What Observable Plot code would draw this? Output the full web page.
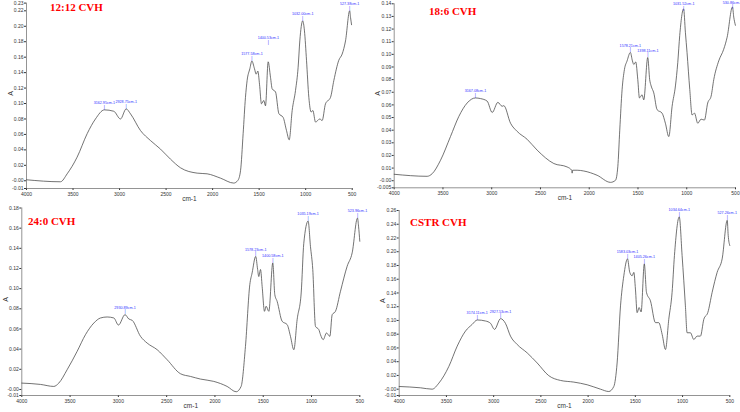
<!DOCTYPE html>
<html><head><meta charset="utf-8">
<script src="https://cdn.jsdelivr.net/npm/d3@7"></script>
<script src="https://cdn.jsdelivr.net/npm/@observablehq/plot@0.6"></script>
<style>
body{margin:0;background:#fff;}
#wrap{position:relative;width:740px;height:412px;overflow:hidden;background:#fff;}
.panel{position:absolute;width:370px;height:206px;}
.title{position:absolute;font-family:"Liberation Serif","Times New Roman",serif;font-weight:bold;color:#ff0000;font-size:11px;line-height:1;white-space:nowrap;}
</style></head><body><div id="wrap"></div>
<script>
// ---- data ----
const titles = ["12:12 CVH", "18:6 CVH", "24:0 CVH", "CSTR CVH"];
const xTicks = [4000, 3500, 3000, 2500, 2000, 1500, 1000, 500];

// 12:12 CVH
const wn1 = [4000,3635,3563,3456,3348,3259,3163,3062,2990,2929,2882,2775,2667,2560,2453,2345,2166,2059,1915,1773,1729,1700,1672,1647,1629,1600,1578,1550,1532,1514,1496,1475,1450,1432,1403,1378,1360,1324,1288,1242,1206,1177,1145,1109,1081,1063,1032,1013,991,966,941,923,894,848,823,787,733,697,644,608,572,527,518,507];
const ab1 = [0.0013,-0.0013,0.009,0.0306,0.061,0.080,0.0918,0.090,0.080,0.093,0.0866,0.065,0.052,0.041,0.028,0.0168,0.0099,0.009,0.0034,-0.003,0.0004,0.013,0.061,0.108,0.130,0.145,0.155,0.145,0.138,0.142,0.125,0.0996,0.104,0.097,0.154,0.134,0.119,0.115,0.087,0.082,0.065,0.053,0.091,0.117,0.147,0.181,0.207,0.194,0.156,0.108,0.089,0.091,0.076,0.080,0.078,0.0996,0.108,0.130,0.156,0.164,0.181,0.220,0.2116,0.202];
const pkW1 = [3162.95, 2928.75, 1577.58, 1400.53, 1032.00, 527.38];
const pkA1 = [0.0918, 0.093, 0.155, 0.176, 0.207, 0.220];
const yTicks1 = [0.23,0.22,0.20,0.18,0.16,0.14,0.12,0.10,0.08,0.06,0.04,0.02,0,-0.01];
const yLabels1 = ["0.23","0.22","0.20","0.18","0.16","0.14","0.12","0.10","0.08","0.06","0.04","0.02","-0.00","-0.01"];

// 18:6 CVH
const wn2 = [4000,3662,3610,3525,3423,3337,3252,3167,3115,3047,2995,2937,2893,2876,2807,2739,2637,2534,2363,2227,2180,2175,2170,2124,2056,1919,1782,1731,1707,1687,1663,1639,1612,1578,1557,1543,1523,1502,1485,1458,1441,1400,1380,1365,1338,1304,1253,1219,1184,1150,1116,1092,1072,1032,1014,997,969,945,921,887,853,819,785,750,723,672,621,586,531,518,501];
const ab2 = [0.0051,0.0035,0.0056,0.0162,0.0349,0.0509,0.0615,0.0655,0.0650,0.063,0.054,0.062,0.0589,0.0594,0.0455,0.039,0.0328,0.0242,0.0136,0.0109,0.0083,0.006,0.0083,0.0083,0.0077,0.0043,-0.0013,0.0003,0.011,0.040,0.072,0.088,0.0948,0.1015,0.0948,0.092,0.094,0.080,0.0655,0.068,0.064,0.0975,0.080,0.075,0.0695,0.0562,0.0535,0.0455,0.0349,0.0589,0.075,0.0935,0.115,0.136,0.1175,0.1015,0.0722,0.052,0.0535,0.0455,0.0487,0.048,0.0615,0.0669,0.080,0.0948,0.104,0.1135,0.1375,0.1295,0.123];
const pkW2 = [3167.08, 1578.21, 1398.11, 1031.52, 530.86];
const pkA2 = [0.0655, 0.1015, 0.0975, 0.1345, 0.1355];
const yTicks2 = [0.14,0.13,0.12,0.11,0.10,0.09,0.08,0.07,0.06,0.05,0.04,0.03,0.02,0.01,0,-0.0056];
const yLabels2 = ["0.14","0.13","0.12","0.11","0.10","0.09","0.08","0.07","0.06","0.05","0.04","0.03","0.02","0.01","-0.00","-0.005"];

// 24:0 CVH
const wn3 = [4000,3807,3669,3617,3531,3427,3341,3254,3185,3116,3047,2999,2931,2892,2857,2771,2702,2598,2495,2357,2253,2150,2012,1874,1780,1729,1684,1639,1615,1578,1558,1546,1528,1511,1487,1470,1442,1401,1380,1356,1304,1252,1218,1183,1149,1107,1080,1035,1011,987,959,924,907,879,845,810,786,752,700,631,579,524,513,500];
const ab3 = [0.0063,0.005,0.003,0.0063,0.0195,0.0378,0.0543,0.0659,0.0709,0.0719,0.0709,0.0639,0.0742,0.0699,0.0686,0.0527,0.046,0.0394,0.0295,0.0156,0.0129,0.0103,0.008,0.003,-0.0023,0.003,0.0427,0.104,0.1156,0.132,0.119,0.112,0.119,0.102,0.0775,0.0825,0.0775,0.1255,0.094,0.0874,0.0676,0.0643,0.0527,0.0394,0.0692,0.0957,0.145,0.167,0.142,0.119,0.0626,0.0593,0.0543,0.0494,0.056,0.0527,0.0742,0.0775,0.0974,0.1222,0.1355,0.170,0.162,0.147];
const pkW3 = [2930.89, 1578.23, 1400.58, 1035.19, 523.96];
const pkA3 = [0.0742, 0.132, 0.1255, 0.167, 0.170];
const yTicks3 = [0.18,0.16,0.14,0.12,0.10,0.08,0.06,0.04,0.02,0,-0.006];
const yLabels3 = ["0.18","0.16","0.14","0.12","0.10","0.08","0.06","0.04","0.02","-0.00","-0.01"];

// CSTR CVH
const wn4 = [4000,3774,3651,3580,3474,3386,3298,3227,3174,3086,3033,2991,2927,2875,2822,2751,2645,2539,2416,2292,2151,2010,1869,1781,1728,1693,1657,1622,1583,1559,1534,1516,1499,1481,1460,1439,1405,1382,1340,1287,1252,1216,1181,1146,1111,1086,1035,1005,970,952,917,881,846,811,775,733,687,634,581,527,517,500];
const ab4 = [0.0039,0.002,0.0,0.0088,0.0332,0.0626,0.0846,0.0943,0.1007,0.0992,0.0958,0.087,0.1026,0.0958,0.0772,0.065,0.0528,0.0381,0.0196,0.0127,0.0103,0.0064,0.0,-0.0034,0.0039,0.0381,0.1212,0.165,0.1896,0.170,0.165,0.170,0.1457,0.1114,0.1188,0.1124,0.1823,0.1408,0.1285,0.0968,0.0968,0.0797,0.0577,0.1017,0.1408,0.1945,0.2507,0.1945,0.1212,0.0821,0.0821,0.0723,0.0772,0.0772,0.1017,0.1114,0.1408,0.170,0.1896,0.2458,0.2238,0.209];
const pkW4 = [3174.11, 2927.53, 1583.03, 1405.26, 1034.64, 527.26];
const pkA4 = [0.1007, 0.1026, 0.1896, 0.1823, 0.2507, 0.2458];
const yTicks4 = [0.26,0.24,0.22,0.20,0.18,0.16,0.14,0.12,0.10,0.08,0.06,0.04,0.02,0,-0.0092];
const yLabels4 = ["0.26","0.24","0.22","0.20","0.18","0.16","0.14","0.12","0.10","0.08","0.06","0.04","0.02","-0.00","-0.01"];

// ---- layout ----
const panels = [
  {wn: wn1, ab: ab1, pkW: pkW1, pkA: pkA1, yt: yTicks1, yl: yLabels1, left: 0, top: 0, ml: 26, mr: 18.3, mt: 2.6, mb: 18, tx: 50, ty: 1.5},
  {wn: wn2, ab: ab2, pkW: pkW2, pkA: pkA2, yt: yTicks2, yl: yLabels2, left: 370, top: 0, ml: 23.7, mr: 5, mt: 3.3, mb: 18.7, tx: 59, ty: 5.7},
  {wn: wn3, ab: ab3, pkW: pkW3, pkA: pkA3, yt: yTicks3, yl: yLabels3, left: 0, top: 206, ml: 21.3, mr: 10.7, mt: 1.5, mb: 17, tx: 28, ty: 9.7},
  {wn: wn4, ab: ab4, pkW: pkW4, pkA: pkA4, yt: yTicks4, yl: yLabels4, left: 370, top: 206, ml: 28.7, mr: 10.7, mt: 4, mb: 17, tx: 40, ty: 10.7}
];

const wrap = document.getElementById("wrap");
panels.forEach((cfg, k) => {
  const rows = cfg.wn.map((w, i) => ({w, a: cfg.ab[i]}));
  const peaks = cfg.pkW.map((w, i) => ({w, a: cfg.pkA[i], t: w.toFixed(2) + "cm-1"}));
  const yDomain = [cfg.yt[cfg.yt.length - 1], cfg.yt[0]];
  const chart = Plot.plot({
    width: 370, height: 206,
    marginLeft: cfg.ml, marginRight: cfg.mr, marginTop: cfg.mt, marginBottom: cfg.mb,
    style: {fontFamily: "Arial, 'Liberation Sans', sans-serif", fontSize: "5px", color: "#333", background: "transparent", overflow: "visible"},
    x: {domain: [4000, 500], ticks: xTicks, tickFormat: d => String(d), tickSize: 2, tickPadding: 1.5, label: null},
    y: {domain: yDomain, ticks: cfg.yt, tickFormat: d => cfg.yl[cfg.yt.indexOf(d)], tickSize: 2, tickPadding: 1, label: null},
    marks: [
      Plot.ruleX([4000], {stroke: "#666", strokeWidth: 0.7}),
      Plot.ruleY([yDomain[0]], {stroke: "#666", strokeWidth: 0.7}),
      Plot.line(rows, {x: "w", y: "a", stroke: "#444", strokeWidth: 0.75, curve: "monotone-x"}),
      Plot.text(peaks, {x: "w", y: "a", text: "t", dy: -5.8, lineAnchor: "bottom", fontSize: 3.7, fill: "#3030ff"}),
      Plot.text(peaks, {x: "w", y: "a", text: () => "|", dy: -1.2, lineAnchor: "bottom", fontSize: 4.5, fill: "#3030ff"}),
      Plot.text(["A"], {text: d => d, frameAnchor: "left", dx: -16, rotate: -90, fontSize: 7, fill: "#333"}),
      Plot.text(["cm-1"], {text: d => d, frameAnchor: "bottom", dy: 12, fontSize: 6.5, fill: "#333"})
    ]
  });
  const div = document.createElement("div");
  div.className = "panel";
  div.style.left = cfg.left + "px";
  div.style.top = cfg.top + "px";
  div.appendChild(chart);
  const t = document.createElement("div");
  t.className = "title";
  t.textContent = titles[k];
  t.style.left = cfg.tx + "px";
  t.style.top = cfg.ty + "px";
  div.appendChild(t);
  wrap.appendChild(div);
});
</script>
</body></html>
